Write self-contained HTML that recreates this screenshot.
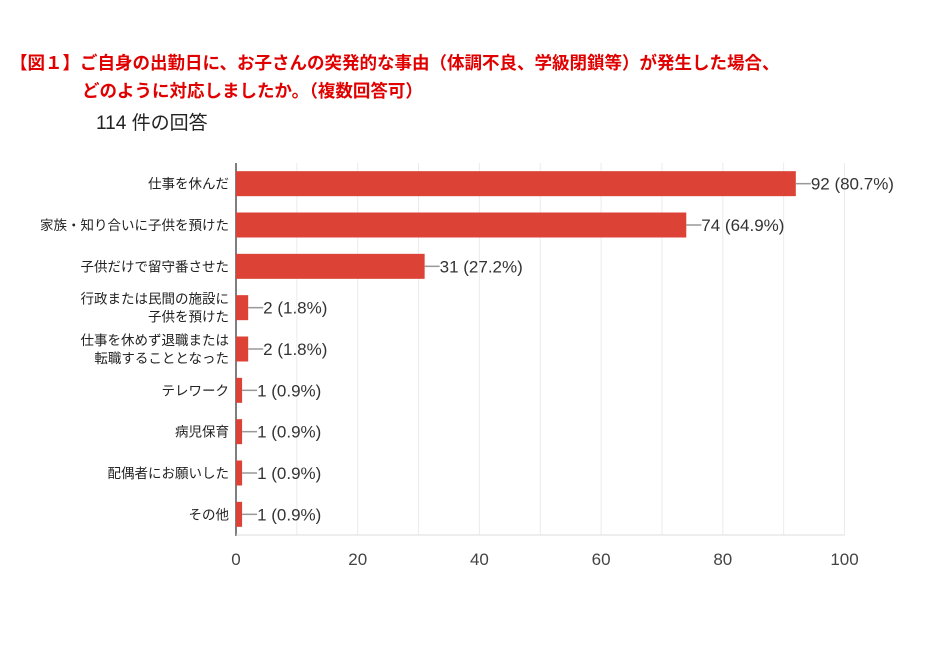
<!DOCTYPE html>
<html><head><meta charset="utf-8">
<style>
body{margin:0;background:#fff;width:941px;height:655px;overflow:hidden;font-family:"Liberation Sans","Noto Sans CJK JP",sans-serif;}
.t{position:absolute;color:#e00000;font-weight:bold;font-size:17.5px;white-space:nowrap;}
</style></head><body>
<div class="t" style="left:10px;top:50px;">【図１】ご自身の出勤日に、お子さんの突発的な事由（体調不良、学級閉鎖等）が発生した場合、</div>
<div class="t" style="left:82px;top:78px;">どのように対応しましたか。（複数回答可）</div>
<div style="position:absolute;left:96px;top:108px;font-size:19px;color:#222;">114 件の回答</div>
<svg id="chart" width="941" height="655" style="position:absolute;left:0;top:0;"></svg>
<script>
const categories=[["仕事を休んだ"],["家族・知り合いに子供を預けた"],["子供だけで留守番させた"],["行政または民間の施設に","子供を預けた"],["仕事を休めず退職または","転職することとなった"],["テレワーク"],["病児保育"],["配偶者にお願いした"],["その他"]];
const values=[92,74,31,2,2,1,1,1,1];
const percents=["80.7%","64.9%","27.2%","1.8%","1.8%","0.9%","0.9%","0.9%","0.9%"];
const ticks=[0,20,40,60,80,100];
const NS="http://www.w3.org/2000/svg";
const svg=document.getElementById('chart');
const x0=236,x1=844.5,top0=163,bot=535;
const xs=v=>x0+(v/100)*(x1-x0);
const rowH=(bot-top0)/categories.length;
const ys=i=>top0+rowH*(i+0.5);
function mk(t,a){const e=document.createElementNS(NS,t);for(const k in a)e.setAttribute(k,a[k]);svg.appendChild(e);return e;}
for(let v=0;v<=100;v+=10){
 const g=mk('line',{x1:xs(v),x2:xs(v),y1:top0,y2:bot,stroke:'#ebebeb','stroke-width':1});
 
 
}
ticks.forEach(t=>{
 const e=mk('text',{x:xs(t),y:565,'text-anchor':'middle','font-size':'17',fill:'#444','font-family':'Liberation Sans, sans-serif'});
 e.textContent=t;
 
 
});
const ax=mk('line',{x1:x0,x2:x0,y1:top0,y2:bot+1,stroke:'#555','stroke-width':1.5});


const bx=mk('line',{x1:x0,x2:x1,y1:bot,y2:bot,stroke:'#ddd','stroke-width':1});


values.forEach((v,i)=>{
 const cy=ys(i);
 const r=mk('rect',{x:x0,y:cy-12.5,width:xs(v)-x0,height:25,fill:'#dc4236'});
 
 
 const l=mk('line',{x1:xs(v),x2:xs(v)+15,y1:cy,y2:cy,stroke:'#999','stroke-width':1.5});
 
 
 const t=mk('text',{x:xs(v)+15,y:cy+6,'font-size':'17',fill:'#333','font-family':'Liberation Sans Narrow, Liberation Sans, sans-serif'});
 t.textContent=v+' ('+percents[i]+')';
 
 
 const lines=categories[i];
 lines.forEach((s,j)=>{
  const c=mk('text',{x:229,y:cy+5+(j-(lines.length-1)/2)*18,'text-anchor':'end','font-size':'13.5',fill:'#222','font-family':'Liberation Sans, Noto Sans CJK JP, sans-serif'});
  c.textContent=s;
  
  
 });
});
</script>
</body></html>
